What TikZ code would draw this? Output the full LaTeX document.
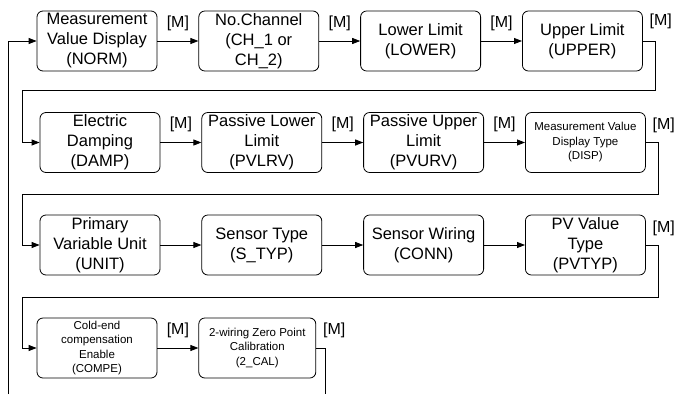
\documentclass[tikz,border=0pt]{standalone}
\usepackage{fontspec}
\setmainfont{Liberation Sans}
\usetikzlibrary{positioning,arrows.meta}

\begin{document}
\begin{tikzpicture}[
    x=1pt, y=-1pt,
    node distance=41pt,
    menubox/.style={draw, rectangle, rounded corners=6pt, minimum height=60pt, minimum width=120pt, inner sep=0pt, align=center, line width=0.8pt, font=\fontsize{16.5}{20}\selectfont},
    menusmall/.style={menubox, font=\fontsize{11.5}{14.5}\selectfont},
    mlabel/.style={font=\fontsize{16}{18}\selectfont, inner sep=0pt, yshift=18pt},
    mend/.style={font=\fontsize{16}{18}\selectfont, inner sep=0pt},
    flowarrow/.style={line width=0.8pt,->,>={Triangle[length=8pt,width=6pt]}},
    flowline/.style={line width=0.8pt}
]
  \useasboundingbox (0,0) rectangle (676,394);
  % Nodes
  \node (norm) [menubox] at (97,41) {Measurement\\Value Display\\(NORM)};
  \node (chan) [menubox, right=of norm] {No.Channel\\(CH\_1 or\\CH\_2)};
  \node (lower) [menubox, right=of chan] {Lower Limit\\(LOWER)};
  \node (upper) [menubox, right=of lower] {Upper Limit\\(UPPER)};

  \node (damp) [menubox] at (100,142.5) {Electric\\Damping\\(DAMP)};
  \node (pvlrv) [menubox, right=of damp] {Passive Lower\\Limit\\(PVLRV)};
  \node (pvurv) [menubox, right=of pvlrv] {Passive Upper\\Limit\\(PVURV)};
  \node (disp) [menusmall, right=of pvurv] {Measurement Value\\Display Type\\(DISP)};

  \node (unit) [menubox] at (100,245) {Primary\\Variable Unit\\(UNIT)};
  \node (styp) [menubox, right=of unit] {Sensor Type\\(S\_TYP)};
  \node (conn) [menubox, right=of styp] {Sensor Wiring\\(CONN)};
  \node (pvtyp) [menubox, right=of conn] {PV Value\\Type\\(PVTYP)};

  \node (compe) [menusmall] at (97,348) {Cold-end\\compensation\\Enable\\(COMPE)};
  \node (cal) [menusmall, minimum width=117pt, right=of compe] {2-wiring Zero Point\\Calibration\\(2\_CAL)};

  % Turning points
  \coordinate (entry) at (8,394);
  \coordinate (back) at (22,0);
  \coordinate (turn1) at (655,90);
  \coordinate (turn2) at (658,194);
  \coordinate (turn3) at (658,297);
  \coordinate (exit) at (325,394);

  % Arrows
  \draw [flowarrow] (entry) |- (norm.west);
  \draw [flowarrow] (norm) -- node[mlabel] {[M]} (chan);
  \draw [flowarrow] (chan) -- node[mlabel] {[M]} (lower);
  \draw [flowarrow] (lower) -- node[mlabel] {[M]} (upper);
  \draw [flowarrow] (upper.east) -| (turn1) -- (back |- turn1) |- (damp.west);

  \draw [flowarrow] (damp) -- node[mlabel] {[M]} (pvlrv);
  \draw [flowarrow] (pvlrv) -- node[mlabel] {[M]} (pvurv);
  \draw [flowarrow] (pvurv) -- node[mlabel] {[M]} (disp);
  \draw [flowarrow] (disp.east) -| (turn2) -- (back |- turn2) |- (unit.west);

  \draw [flowarrow] (unit) -- (styp);
  \draw [flowarrow] (styp) -- (conn);
  \draw [flowarrow] (conn) -- (pvtyp);
  \draw [flowarrow] (pvtyp.east) -| (turn3) -- (back |- turn3) |- (compe.west);

  \draw [flowarrow] (compe) -- node[mlabel] {[M]} (cal);
  \draw [flowline] (cal.east) -| (exit);

  % Labels at row ends
  \node [mend] at ([xshift=18pt,yshift=-11pt]upper.north east) {[M]};
  \node [mend] at ([xshift=18pt,yshift=-13pt]disp.north east) {[M]};
  \node [mend] at ([xshift=18pt,yshift=-14pt]pvtyp.north east) {[M]};
  \node [mend] at ([xshift=18pt,yshift=-13pt]cal.north east) {[M]};
\end{tikzpicture}
\end{document}
